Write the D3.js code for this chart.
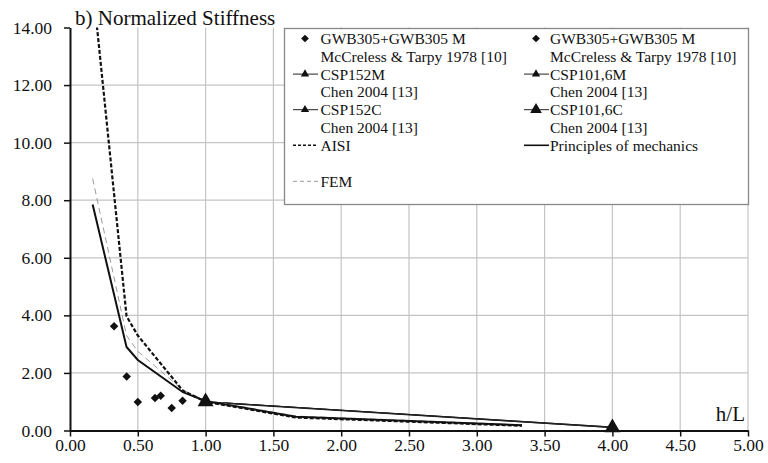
<!DOCTYPE html>
<html><head><meta charset="utf-8">
<script src="https://cdn.jsdelivr.net/npm/d3@7"></script>
<style>
html,body{margin:0;padding:0;background:#fff;}
</style></head>
<body><svg id="c" width="768" height="463"></svg>
<script>
// ---- data ----
const xTicks = [0,0.5,1,1.5,2,2.5,3,3.5,4,4.5,5];
const yTicks = [0,2,4,6,8,10,12,14];
const title = "b) Normalized Stiffness";
const xLabel = "h/L";
// McCreless & Tarpy 1978 test points
const gwbAX = [0.325,0.418,0.5];
const gwbAY = [3.62,1.88,0.99];
const gwbBX = [0.627,0.669,0.75,0.83];
const gwbBY = [1.13,1.21,0.78,1.03];
// Chen 2004 series
const cspX = [1,4];
const csp152M = [1.0,0.12];
const csp1016M = [0.98,0.10];
const csp152C = [1.0,0.12];
const csp1016C = [1.0,0.10];
// model curves
const hL = [0.167,0.417,0.5,0.833,1.0,1.667,3.333];
const aisi = [15.5,3.97,3.3,1.38,1.0,0.45,0.165];
const fem = [8.75,3.3,2.75,1.4,1.05,0.5,0.2];
const principles = [7.85,2.9,2.45,1.33,1.02,0.48,0.185];

const legendLeft = [
  {type:"diamond", l1:"GWB305+GWB305 M", l2:"McCreless & Tarpy 1978 [10]"},
  {type:"triS", l1:"CSP152M", l2:"Chen 2004 [13]"},
  {type:"triS", l1:"CSP152C", l2:"Chen 2004 [13]"},
  {type:"aisi", l1:"AISI"},
  {type:"fem", l1:"FEM"}
];
const legendRight = [
  {type:"diamond", l1:"GWB305+GWB305 M", l2:"McCreless & Tarpy 1978 [10]"},
  {type:"triS", l1:"CSP101,6M", l2:"Chen 2004 [13]"},
  {type:"triL", l1:"CSP101,6C", l2:"Chen 2004 [13]"},
  {type:"solid", l1:"Principles of mechanics"}
];

// ---- chart ----
const FONT = "Liberation Serif";
const svg = d3.select("#c");
const x = d3.scaleLinear().domain([0,5]).range([70,748]);
const y = d3.scaleLinear().domain([0,14]).range([430.5,27.5]);

svg.append("defs").append("clipPath").attr("id","clip")
  .append("rect").attr("x",70).attr("y",27.5).attr("width",680).attr("height",404);

// gridlines
const grid = svg.append("g");
grid.selectAll(".vg").data(xTicks.slice(1)).join("line")
  .attr("x1",d=>x(d)).attr("x2",d=>x(d)).attr("y1",y(0)).attr("y2",y(14))
  .attr("stroke","#c4c4c4").attr("stroke-width",1.2);
grid.selectAll(".hg").data(yTicks.slice(1,-1)).join("line")
  .attr("x1",x(0)).attr("x2",x(5)).attr("y1",d=>y(d)).attr("y2",d=>y(d))
  .attr("stroke","#c4c4c4").attr("stroke-width",1.2);

// axes
const fmt = d3.format(".2f");
const xAxis = svg.append("g").attr("transform",`translate(0,${y(0)})`)
  .call(d3.axisBottom(x).tickValues(xTicks).tickFormat(fmt).tickSize(6).tickSizeOuter(0));
const yAxis = svg.append("g").attr("transform",`translate(${x(0)},0)`)
  .call(d3.axisLeft(y).tickValues(yTicks).tickFormat(fmt).tickSize(6).tickSizeOuter(0));
[xAxis,yAxis].forEach(a=>{
  a.attr("font-family",FONT).attr("font-size",17.5);
  a.select(".domain").attr("stroke","#111").attr("stroke-width",2);
  a.selectAll(".tick line").attr("stroke","#111").attr("stroke-width",1.5);
  a.selectAll("text").attr("font-family",FONT).attr("font-size",17.5).attr("fill","#111");
});
xAxis.selectAll("text").attr("dy","0.95em").attr("y",4);
yAxis.selectAll("text").attr("x",-18);

const plot = svg.append("g").attr("clip-path","url(#clip)");
const line = d3.line().x(d=>x(d[0])).y(d=>y(d[1]));
const zip = (xs,ys)=>xs.map((v,i)=>[v,ys[i]]);

// CSP connecting lines
[csp152M,csp1016M,csp152C,csp1016C].forEach(s=>{
  plot.append("path").datum(zip(cspX,s)).attr("d",line)
    .attr("fill","none").attr("stroke","#222").attr("stroke-width",1);
});
plot.append("path").datum(zip(hL,fem)).attr("d",line)
  .attr("fill","none").attr("stroke","#999").attr("stroke-width",1).attr("stroke-dasharray","6,4");
plot.append("path").datum(zip(hL,aisi)).attr("d",line)
  .attr("fill","none").attr("stroke","#111").attr("stroke-width",2.2).attr("stroke-dasharray","4,2");
plot.append("path").datum(zip(hL,principles)).attr("d",line)
  .attr("fill","none").attr("stroke","#111").attr("stroke-width",2);

const triS = d3.symbol().type(d3.symbolTriangle).size(40);
const triL = d3.symbol().type(d3.symbolTriangle).size(110);

svg.append("g").selectAll("path").data(zip(gwbAX,gwbAY).concat(zip(gwbBX,gwbBY))).join("path")
  .attr("d",d3.symbol().type(d3.symbolSquare).size(36))
  .attr("transform",d=>`translate(${x(d[0])},${y(d[1])}) rotate(45)`).attr("fill","#111");
[csp152M,csp1016M,csp152C].forEach(s=>{
  svg.append("g").selectAll("path").data(zip(cspX,s)).join("path")
    .attr("d",triS).attr("transform",d=>`translate(${x(d[0])},${y(d[1])})`).attr("fill","#111");
});
svg.append("g").selectAll("path").data(zip(cspX,csp1016C)).join("path")
  .attr("d",triL).attr("transform",d=>`translate(${x(d[0])},${y(d[1])})`).attr("fill","#111");

// title and axis label
svg.append("text").attr("x",75).attr("y",25).attr("font-family",FONT).attr("font-size",21).attr("fill","#111").text(title);
svg.append("text").attr("x",745).attr("y",421).attr("text-anchor","end").attr("font-family",FONT).attr("font-size",21).attr("fill","#111").text(xLabel);

// legend
const lg = svg.append("g").attr("font-family",FONT);
lg.append("rect").attr("x",284.5).attr("y",28.5).attr("width",464).attr("height",176)
  .attr("fill","#fff").attr("stroke","#888").attr("stroke-width",1.3);
function drawLegend(items, mx, tx){
  let yy = 38.5;
  items.forEach(it=>{
    const cy = yy;
    if(it.type==="diamond"){
      lg.append("path").attr("d",d3.symbol().type(d3.symbolSquare).size(30))
        .attr("transform",`translate(${mx+12},${cy}) rotate(45)`).attr("fill","#111");
    } else if(it.type==="triS"||it.type==="triL"){
      lg.append("line").attr("x1",mx).attr("x2",mx+25).attr("y1",cy).attr("y2",cy).attr("stroke","#222").attr("stroke-width",1);
      lg.append("path").attr("d",it.type==="triS"?d3.symbol().type(d3.symbolTriangle).size(30):d3.symbol().type(d3.symbolTriangle).size(60))
        .attr("transform",`translate(${mx+12},${cy})`).attr("fill","#111");
    } else if(it.type==="aisi"){
      lg.append("line").attr("x1",mx).attr("x2",mx+25).attr("y1",cy).attr("y2",cy).attr("stroke","#111").attr("stroke-width",1.5).attr("stroke-dasharray","3,2");
    } else if(it.type==="fem"){
      lg.append("line").attr("x1",mx).attr("x2",mx+25).attr("y1",cy).attr("y2",cy).attr("stroke","#999").attr("stroke-width",1).attr("stroke-dasharray","4,3");
    } else if(it.type==="solid"){
      lg.append("line").attr("x1",mx).attr("x2",mx+25).attr("y1",cy).attr("y2",cy).attr("stroke","#111").attr("stroke-width",1.6);
    }
    lg.append("text").attr("x",tx).attr("y",cy).attr("dy","0.35em").attr("font-family",FONT).attr("font-size",15.5).attr("fill","#111").text(it.l1);
    if(it.l2){
      yy += 17.8;
      lg.append("text").attr("x",tx).attr("y",yy).attr("dy","0.35em").attr("font-family",FONT).attr("font-size",15.5).attr("fill","#111").text(it.l2);
    }
    yy += (it.type==="aisi") ? 36 : 17.8;
  });
}
drawLegend(legendLeft, 293, 320.5);
drawLegend(legendRight, 524, 550);
</script></body></html>
